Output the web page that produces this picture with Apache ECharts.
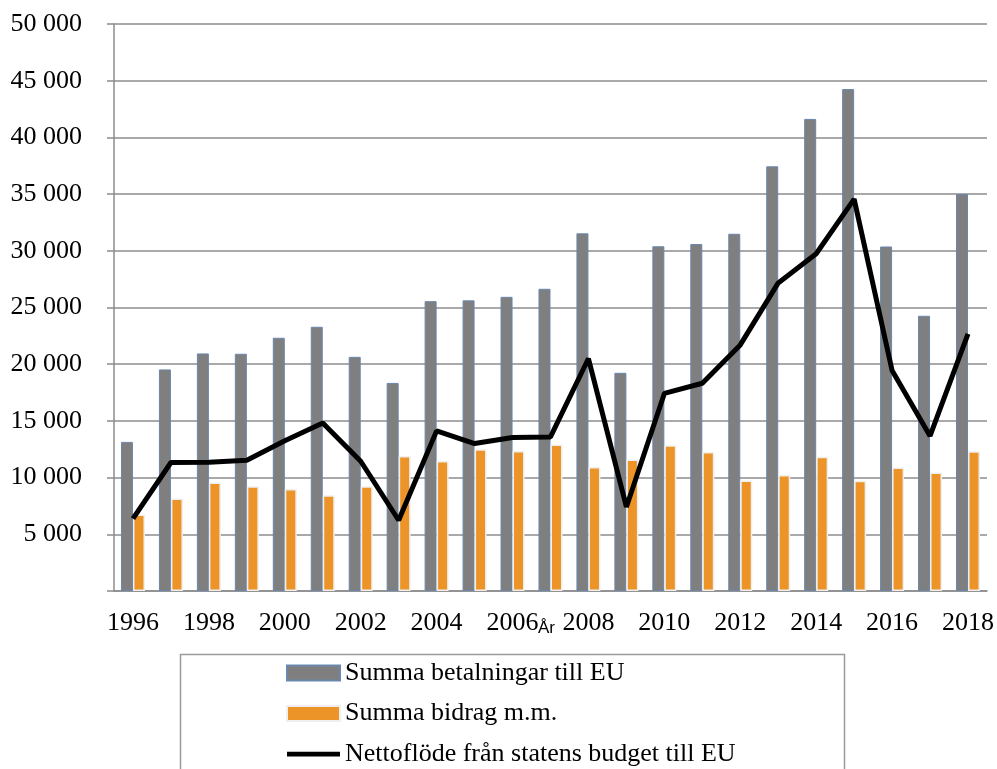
<!DOCTYPE html>
<head>
    <meta charset="utf-8">
    <title>ECharts</title>
    <script type="text/javascript" src="https://cdn.jsdelivr.net/npm/echarts@6/dist/echarts.min.js"></script>
</head>
<body style="margin:0">
<div id="main" style="width:997px;height:769px"></div>
<script type="text/javascript">
    // år och serier (mkr)
    var years = ['1996','1997','1998','1999','2000','2001','2002','2003','2004','2005','2006','2007',
                 '2008','2009','2010','2011','2012','2013','2014','2015','2016','2017','2018'];
    var betalningar = [13150, 19540, 20950, 20920, 22330, 23300, 20650, 18350, 25560, 25630, 25940, 26650,
                       31540, 19240, 30400, 30600, 31500, 37450, 41630, 44260, 30380, 24270, 35000];
    var bidrag = [6740, 8150, 9560, 9240, 9000, 8450, 9240, 11900, 11470, 12500, 12350, 12920,
                  10940, 11590, 12860, 12260, 9750, 10230, 11840, 9720, 10900, 10460, 12320];
    var netto = [6390, 11330, 11360, 11530, 13250, 14820, 11440, 6240, 14120, 13000, 13540, 13590,
                 20500, 7410, 17420, 18320, 21700, 27170, 29740, 34560, 19450, 13670, 22670];
    var names = ['Summa betalningar till EU', 'Summa bidrag m.m.', 'Nettoflöde från statens budget till EU'];

    var serif = 'Liberation Serif';
    var gridColor = '#8c8c8c';

    var myChart = echarts.init(document.getElementById('main'));
    var option = {
        animation: false,
        backgroundColor: '#fff',
        grid: { left: 114, right: 10, top: 24, bottom: 178, containLabel: false },
        legend: {
            orient: 'vertical',
            left: 286,
            top: 660,
            height: 160,
            padding: 0,
            itemWidth: 53,
            itemHeight: 15,
            itemGap: 14.5,
            data: [
                { name: names[0], icon: 'rect' },
                { name: names[1], icon: 'rect' },
                // tjock linje utan symbol
                { name: names[2], icon: 'path://M0,0M0,5.3L53,5.3L53,10L0,10ZM53,15' }
            ],
            textStyle: { fontFamily: serif, fontSize: 26, color: '#000' }
        },
        graphic: [{
            type: 'rect',
            shape: { x: 180.5, y: 654.5, width: 664, height: 140 },
            style: { fill: 'none', stroke: '#9a9a9a', lineWidth: 1.5 },
            z: -1
        }],
        xAxis: [{
            type: 'category',
            data: years,
            name: 'År',
            nameLocation: 'middle',
            nameGap: 29,
            nameMoveOverlap: false,
            nameTextStyle: { fontFamily: 'Liberation Sans', fontSize: 17, color: '#000', padding: [0, 8, 0, 0] },
            axisLine: { lineStyle: { color: gridColor, width: 1.5 } },
            axisTick: { interval: 0, length: 7, lineStyle: { color: gridColor, width: 1.5 } },
            axisLabel: { interval: 1, margin: 19, fontFamily: serif, fontSize: 26, color: '#000' }
        }],
        yAxis: [{
            type: 'value',
            min: 0,
            max: 50000,
            interval: 5000,
            axisLine: { show: true, lineStyle: { color: gridColor, width: 1.5 } },
            axisTick: { show: true, length: 7, lineStyle: { color: gridColor, width: 1.5 } },
            splitLine: { lineStyle: { color: gridColor, width: 1.5 } },
            axisLabel: {
                margin: 32,
                fontFamily: serif,
                fontSize: 26,
                color: '#000',
                formatter: function (v) {
                    return v === 0 ? '' : String(v).replace(/\B(?=(\d{3})+(?!\d))/g, ' ');
                }
            }
        }],
        series: [
            {
                name: names[0],
                type: 'bar',
                barWidth: 12,
                barGap: '0%',
                data: betalningar,
                itemStyle: { color: '#7f7f7f', borderColor: '#6a87ad', borderWidth: 1 }
            },
            {
                name: names[1],
                type: 'bar',
                barWidth: 12,
                data: bidrag,
                itemStyle: { color: '#ed9428', borderColor: '#efefef', borderWidth: 1.5 }
            },
            {
                name: names[2],
                type: 'line',
                data: netto,
                symbol: 'none',
                z: 5,
                lineStyle: { color: '#000', width: 5 },
                itemStyle: { color: '#000' }
            }
        ]
    };
    myChart.setOption(option);
</script>
</body>
